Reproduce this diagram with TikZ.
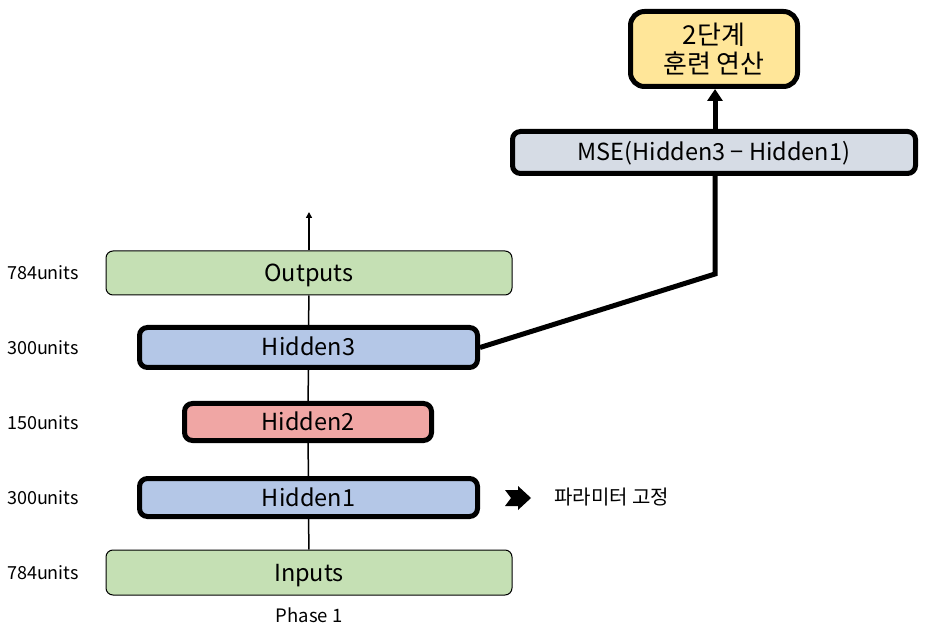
\documentclass[tikz,border=0pt]{standalone}
\usepackage{fontspec}
\setmainfont{Noto Sans CJK KR}
\usetikzlibrary{arrows.meta}
\definecolor{cgreen}{HTML}{C5E0B4}
\definecolor{cblue}{HTML}{B4C7E7}
\definecolor{cred}{HTML}{F0A6A4}
\definecolor{cgrey}{HTML}{D6DCE5}
\definecolor{cyellow}{HTML}{FFE699}
\tikzset{
  boxfont/.style={font=\fontsize{23.5}{28}\selectfont, text height=17pt, text depth=0pt},
  thinbox/.style={draw=black, line width=1pt, rounded corners=7pt, inner sep=0pt, boxfont},
  thickbox/.style={draw=black, line width=5pt, rounded corners=8pt, inner sep=0pt, boxfont},
  unitlabel/.style={font=\fontsize{18}{21}\selectfont, inner sep=0pt},
  thinconn/.style={line width=1.5pt},
  thickconn/.style={line width=5pt},
}
\begin{document}
\begin{tikzpicture}[x=1pt,y=-1pt]
\useasboundingbox (0,0) rectangle (927,636);
% layer boxes
\node[thinbox, fill=cgreen, minimum width=406pt, minimum height=45pt] (in) at (309,572.5) {Inputs};
\node[thickbox, fill=cblue, minimum width=338pt, minimum height=38pt] (h1) at (308.5,497.5) {Hidden1};
\node[thickbox, fill=cred, minimum width=247pt, minimum height=37pt] (h2) at (308,422) {Hidden2};
\node[thickbox, fill=cblue, minimum width=338pt, minimum height=40pt] (h3) at (308.5,347.5) {Hidden3};
\node[thinbox, fill=cgreen, minimum width=406pt, minimum height=44pt] (out) at (309,273) {Outputs};
\node[thickbox, fill=cgrey, minimum width=403pt, minimum height=42pt] (mse) at (714,152.5) {MSE(Hidden3 − Hidden1)};
\node[draw=black, line width=5pt, inner sep=0pt, fill=cyellow, rounded corners=14pt, minimum width=167pt, minimum height=75pt, align=center, font=\fontsize{26}{29}\selectfont] (top) at (714,49) {2단계\\훈련 연산};
% unit labels
\node[unitlabel] (l5) at (43,273) {784units};
\node[unitlabel] (l4) at (43,348) {300units};
\node[unitlabel] (l3) at (43,423) {150units};
\node[unitlabel] (l2) at (43,498) {300units};
\node[unitlabel] (l1) at (43,573) {784units};
\node[font=\fontsize{18.5}{22}\selectfont, inner sep=0pt] (phase) at (309,615) {Phase 1};
\node[font=\fontsize{20}{24}\selectfont, inner sep=0pt, anchor=west] (fix) at (554,497) {파라미터 고정};
% fixed-parameter arrow glyph
\fill (505,490) -- (518,490) -- (518,486) -- (531,498) -- (518,510) -- (518,506) -- (505,506) -- (511,498) -- cycle;
% thin connectors
\coordinate (outtip) at (309,212);
\draw[thinconn] (in.north) -- (h1.south);
\draw[thinconn] (h1.north) -- (h2.south);
\draw[thinconn] (h2.north) -- (h3.south);
\draw[thinconn] (h3.north) -- (out.south);
\draw[thinconn, -{Triangle[width=6pt,length=6pt]}] (out.north) -- (outtip);
% thick connectors
\coordinate (bend) at (715,274);
\draw[thickconn, line join=miter] (h3.east) -- (bend) -- (bend |- mse.south);
\draw[thickconn, -{Triangle[width=15pt,length=12pt]}] (mse.north -| bend) -- (top.south -| bend);
\end{tikzpicture}
\end{document}
